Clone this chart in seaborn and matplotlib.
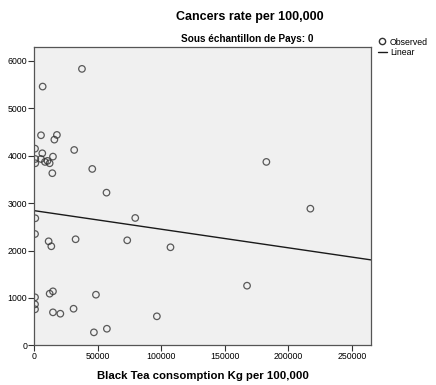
"""
Cancers rate vs black tea consumption (Sous échantillon de Pays: 0)
"""

import numpy as np
import pandas as pd
import matplotlib
matplotlib.use('Agg')
import matplotlib.pyplot as plt
import seaborn as sns
from matplotlib.lines import Line2D

# 数据
tea_kg = [5500, 18000, 16000, 800, 31600, 6500, 14900, 1000, 5500, 8600,
          10600, 12300, 1000, 14400, 45800, 57000, 1000, 79600, 800, 11500,
          13600, 32700, 73300, 107300, 800, 800, 800, 12300, 14900, 48700,
          14900, 20700, 31100, 96600, 47100, 57300, 6800, 37700, 182700,
          217300, 167500]
cancer_rate = [4430, 4437, 4338, 4148, 4120, 4050, 3980, 3930, 3930, 3868,
               3890, 3840, 3840, 3630, 3720, 3220, 2680, 2686, 2348, 2194,
               2089, 2237, 2215, 2068, 1013, 865, 760, 1089, 1139, 1068,
               696, 667, 772, 612, 274, 350, 5457, 5830, 3868,
               2882, 1258]

x_ticks = [0, 50000, 100000, 150000, 200000, 250000]
y_ticks = [0, 1000, 2000, 3000, 4000, 5000, 6000]

df = pd.DataFrame({'tea': tea_kg, 'rate': cancer_rate})

sns.set_style('white')
plt.rcParams['font.family'] = ['Liberation Sans', 'DejaVu Sans']
plt.rcParams['text.color'] = 'black'
plt.rcParams['xtick.color'] = 'black'
plt.rcParams['ytick.color'] = 'black'
plt.rcParams['axes.labelcolor'] = 'black'

fig = plt.figure(figsize=(4.36, 3.85), dpi=100)
ax = fig.add_axes([0.078, 0.103, 0.773, 0.776])
ax.set_facecolor('#f0f0f0')
ax.set_xlim(0, 265000)
ax.set_ylim(0, 6300)

sns.regplot(data=df, x='tea', y='rate', ax=ax, ci=None, truncate=False,
            marker='o',
            scatter_kws={'s': 22, 'facecolors': 'none', 'edgecolors': '#333333',
                         'linewidths': 0.9},
            line_kws={'color': '#1a1a1a', 'linewidth': 1.0})

ax.set_xlim(0, 265000)
ax.set_ylim(0, 6300)
ax.set_xticks(x_ticks)
ax.set_yticks(y_ticks)
ax.set_xticklabels([str(t) for t in x_ticks], fontsize=6.3)
ax.set_yticklabels([str(t) for t in y_ticks], fontsize=6.3)
ax.tick_params(axis='both', direction='out', length=4, width=0.8,
               color='#333333', labelcolor='black', pad=1,
               bottom=True, left=True)
for sp in ax.spines.values():
    sp.set_color('#555555')
    sp.set_linewidth(0.9)

ax.set_xlabel('Black Tea consomption Kg per 100,000', fontsize=8.2,
              fontweight='bold', labelpad=7, color='black')
ax.set_ylabel('')

fig.text(0.573, 0.955, 'Cancers rate per 100,000', ha='center', va='center',
         fontsize=9, fontweight='bold', color='black')
fig.text(0.568, 0.900, 'Sous échantillon de Pays: 0', ha='center',
         va='center', fontsize=7.2, fontweight='bold', color='black')

handles = [Line2D([], [], marker='o', linestyle='none', markerfacecolor='none',
                  markeredgecolor='#333333', markersize=4.5),
           Line2D([], [], color='#1a1a1a', linewidth=1.0)]
fig.legend(handles, ['Observed', 'Linear'], loc='upper left',
           bbox_to_anchor=(0.862, 0.907), frameon=False, fontsize=6.3,
           handlelength=1.1, handletextpad=0.3, labelspacing=0.15,
           borderpad=0.2, borderaxespad=0, labelcolor='black')

fig.savefig('out.png', dpi=100)
